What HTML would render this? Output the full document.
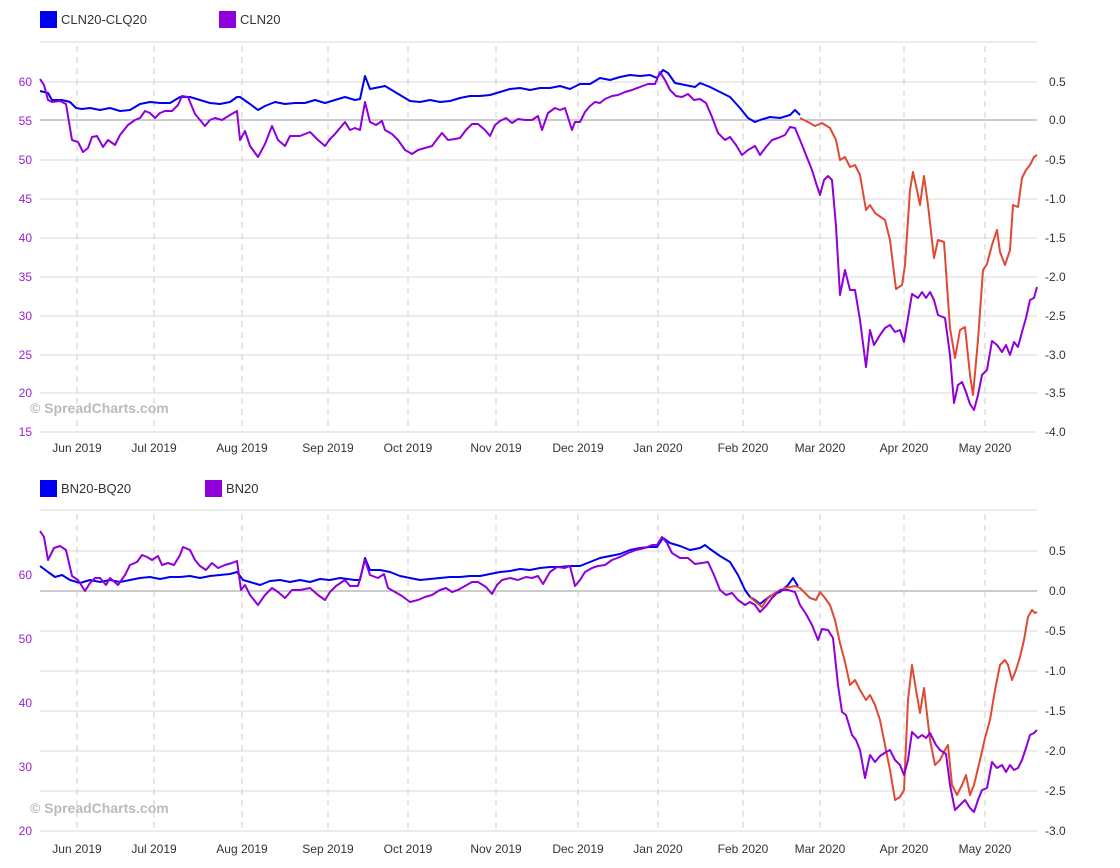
<!DOCTYPE html>
<html><head><meta charset="utf-8"><style>
body{margin:0;background:#fff;}
svg{display:block;font-family:"Liberation Sans",sans-serif;}
.g{stroke:#d9d9d9;stroke-width:1}
.z{stroke:#999;stroke-width:1}
.v{stroke:#ccc;stroke-width:1;stroke-dasharray:6,5}
.l{font-size:12px;fill:#9a1fd8;text-anchor:end}
.r{font-size:12px;fill:#333}
.x{font-size:12px;fill:#333;text-anchor:middle}
.s{fill:none;stroke-width:2;stroke-linejoin:round}
.wm{font-size:14px;font-weight:bold;fill:#bbb}
.lg{font-size:13px;fill:#333}
</style></head><body>
<svg width="1120" height="868" viewBox="0 0 1120 868">
<!-- legend top -->
<rect x="40" y="11" width="17" height="17" fill="#0000f0"/><text x="61" y="24" class="lg">CLN20-CLQ20</text>
<rect x="219" y="11" width="17" height="17" fill="#9000d8"/><text x="240" y="24" class="lg">CLN20</text>
<!-- top grid -->
<g>
<line x1="40" x2="1037" y1="42" y2="42" class="g"/>
<line x1="40" x2="1037" y1="82" y2="82" class="g"/>
<line x1="40" x2="1037" y1="120" y2="120" class="z"/>
<line x1="40" x2="1037" y1="160" y2="160" class="g"/>
<line x1="40" x2="1037" y1="199" y2="199" class="g"/>
<line x1="40" x2="1037" y1="238" y2="238" class="g"/>
<line x1="40" x2="1037" y1="277" y2="277" class="g"/>
<line x1="40" x2="1037" y1="316" y2="316" class="g"/>
<line x1="40" x2="1037" y1="355" y2="355" class="g"/>
<line x1="40" x2="1037" y1="393" y2="393" class="g"/>
<line x1="40" x2="1037" y1="432" y2="432" class="g"/>
</g>
<g>
<line x1="77" x2="77" y1="46" y2="432" class="v"/><line x1="154" x2="154" y1="46" y2="432" class="v"/><line x1="242" x2="242" y1="46" y2="432" class="v"/><line x1="328" x2="328" y1="46" y2="432" class="v"/><line x1="408" x2="408" y1="46" y2="432" class="v"/><line x1="496" x2="496" y1="46" y2="432" class="v"/><line x1="578" x2="578" y1="46" y2="432" class="v"/><line x1="658" x2="658" y1="46" y2="432" class="v"/><line x1="743" x2="743" y1="46" y2="432" class="v"/><line x1="820" x2="820" y1="46" y2="432" class="v"/><line x1="904" x2="904" y1="46" y2="432" class="v"/><line x1="985" x2="985" y1="46" y2="432" class="v"/>
</g>
<g class="l">
<text x="32" y="86">60</text><text x="32" y="125">55</text><text x="32" y="164">50</text><text x="32" y="203">45</text><text x="32" y="242">40</text><text x="32" y="281">35</text><text x="32" y="320">30</text><text x="32" y="359">25</text><text x="32" y="397">20</text><text x="32" y="436">15</text>
</g>
<g class="r">
<text x="1049" y="86">0.5</text><text x="1049" y="124">0.0</text><text x="1045" y="164">-0.5</text><text x="1045" y="203">-1.0</text><text x="1045" y="242">-1.5</text><text x="1045" y="281">-2.0</text><text x="1045" y="320">-2.5</text><text x="1045" y="359">-3.0</text><text x="1045" y="397">-3.5</text><text x="1045" y="436">-4.0</text>
</g>
<g class="x">
<text x="77" y="452">Jun 2019</text><text x="154" y="452">Jul 2019</text><text x="242" y="452">Aug 2019</text><text x="328" y="452">Sep 2019</text><text x="408" y="452">Oct 2019</text><text x="496" y="452">Nov 2019</text><text x="578" y="452">Dec 2019</text><text x="658" y="452">Jan 2020</text><text x="743" y="452">Feb 2020</text><text x="820" y="452">Mar 2020</text><text x="904" y="452">Apr 2020</text><text x="985" y="452">May 2020</text>
</g>
<text x="30" y="413" class="wm">© SpreadCharts.com</text>
<polyline class="s" stroke="#0000f0" points="40,91 48,93 52,100 62,100 70,102 76,108 82,109 90,108 100,110 110,108 120,111 130,110 140,104 150,102 160,103 170,103 180,97 190,97 200,100 210,103 220,104 230,102 237,97 240,97 250,104 258,110 265,106 275,102 285,104 295,103 305,103 315,100 325,103 335,100 345,97 355,100 360,99 365,76 370,89 380,87 385,86 395,92 400,95 410,101 420,102 430,100 440,102 450,101 460,98 470,96 480,96 490,95 500,92 510,89 520,88 530,90 540,88 550,88 560,86 570,89 580,84 590,84 600,78 610,80 620,77 630,75 640,76 650,75 657,78 663,70 668,73 675,83 685,85 695,87 700,83 710,87 720,92 730,97 740,108 748,118 755,122 760,120 770,117 780,118 790,115 795,110 800,115"/>
<polyline class="s" stroke="#e04a35" points="800,118 808,122 815,126 822,123 830,128 836,140 840,160 845,157 850,167 855,165 860,175 866,210 870,205 875,213 885,220 890,240 896,289 902,285 905,265 910,190 913,172 918,195 920,205 924,176 928,205 934,258 938,240 944,242 950,328 955,358 960,330 965,327 970,375 973,395 978,340 983,270 987,264 992,245 997,230 1000,252 1005,265 1010,250 1013,205 1018,207 1022,178 1026,170 1030,165 1034,157 1037,155"/>
<polyline class="s" stroke="#9000d8" points="40,79 44,85 48,100 52,102 60,101 66,104 72,140 78,142 83,152 88,148 92,137 97,136 103,147 108,140 115,145 120,135 128,125 135,120 140,118 145,111 150,113 155,118 160,113 165,111 172,111 178,105 182,96 188,97 195,114 200,120 205,126 210,120 215,118 222,120 230,115 237,111 240,140 245,131 250,146 258,157 265,144 272,126 278,140 285,146 290,136 300,136 310,132 318,140 325,146 330,139 335,134 345,122 350,130 355,128 360,130 365,102 370,122 376,125 382,121 385,130 392,134 398,140 405,150 412,154 418,150 425,148 432,146 438,138 442,133 448,140 455,139 460,138 466,130 472,124 478,124 485,130 490,136 495,125 500,121 506,118 512,123 518,119 525,120 532,120 538,116 542,130 548,113 555,108 560,110 565,108 572,130 575,122 580,122 585,112 590,106 595,102 600,103 605,99 612,96 618,95 625,92 632,90 640,87 648,84 655,84 660,72 665,80 670,90 676,96 682,97 688,94 694,100 700,99 706,103 712,117 718,133 725,140 730,137 736,145 742,155 748,150 755,146 760,155 766,147 772,140 778,138 785,135 790,127 795,128 800,140 806,155 812,170 816,183 820,195 824,180 828,176 832,180 836,226 840,295 845,270 850,290 855,290 860,320 866,367 870,330 874,345 880,335 885,328 890,325 895,332 900,330 904,342 908,318 912,294 918,298 922,292 926,298 930,292 934,300 938,315 945,318 950,355 954,403 958,385 962,382 966,392 970,404 974,410 978,395 982,375 987,370 992,341 997,345 1002,352 1006,345 1010,355 1014,342 1018,347 1022,332 1026,318 1030,300 1034,298 1037,287"/>

<!-- legend bottom -->
<rect x="40" y="480" width="17" height="17" fill="#0000f0"/><text x="61" y="493" class="lg">BN20-BQ20</text>
<rect x="205" y="480" width="17" height="17" fill="#9000d8"/><text x="226" y="493" class="lg">BN20</text>
<g>
<line x1="40" x2="1037" y1="510" y2="510" class="g"/>
<line x1="40" x2="1037" y1="551" y2="551" class="g"/>
<line x1="40" x2="1037" y1="591" y2="591" class="z"/>
<line x1="40" x2="1037" y1="631" y2="631" class="g"/>
<line x1="40" x2="1037" y1="671" y2="671" class="g"/>
<line x1="40" x2="1037" y1="711" y2="711" class="g"/>
<line x1="40" x2="1037" y1="751" y2="751" class="g"/>
<line x1="40" x2="1037" y1="791" y2="791" class="g"/>
<line x1="40" x2="1037" y1="831" y2="831" class="g"/>
</g>
<g>
<line x1="77" x2="77" y1="514" y2="831" class="v"/><line x1="154" x2="154" y1="514" y2="831" class="v"/><line x1="242" x2="242" y1="514" y2="831" class="v"/><line x1="328" x2="328" y1="514" y2="831" class="v"/><line x1="408" x2="408" y1="514" y2="831" class="v"/><line x1="496" x2="496" y1="514" y2="831" class="v"/><line x1="578" x2="578" y1="514" y2="831" class="v"/><line x1="658" x2="658" y1="514" y2="831" class="v"/><line x1="743" x2="743" y1="514" y2="831" class="v"/><line x1="820" x2="820" y1="514" y2="831" class="v"/><line x1="904" x2="904" y1="514" y2="831" class="v"/><line x1="985" x2="985" y1="514" y2="831" class="v"/>
</g>
<g class="l">
<text x="32" y="579">60</text><text x="32" y="643">50</text><text x="32" y="707">40</text><text x="32" y="771">30</text><text x="32" y="835">20</text>
</g>
<g class="r">
<text x="1049" y="555">0.5</text><text x="1049" y="595">0.0</text><text x="1045" y="635">-0.5</text><text x="1045" y="675">-1.0</text><text x="1045" y="715">-1.5</text><text x="1045" y="755">-2.0</text><text x="1045" y="795">-2.5</text><text x="1045" y="835">-3.0</text>
</g>
<g class="x">
<text x="77" y="853">Jun 2019</text><text x="154" y="853">Jul 2019</text><text x="242" y="853">Aug 2019</text><text x="328" y="853">Sep 2019</text><text x="408" y="853">Oct 2019</text><text x="496" y="853">Nov 2019</text><text x="578" y="853">Dec 2019</text><text x="658" y="853">Jan 2020</text><text x="743" y="853">Feb 2020</text><text x="820" y="853">Mar 2020</text><text x="904" y="853">Apr 2020</text><text x="985" y="853">May 2020</text>
</g>
<text x="30" y="813" class="wm">© SpreadCharts.com</text>
<polyline class="s" stroke="#0000f0" points="40,566 48,572 55,577 62,575 70,580 80,583 90,580 100,582 110,580 120,582 130,580 140,578 150,577 160,579 170,577 180,577 190,576 200,578 210,576 220,575 230,574 237,572 243,580 250,582 260,585 270,581 280,580 290,582 300,580 310,582 320,579 330,580 340,578 355,580 360,580 365,558 370,570 380,570 390,572 400,576 410,578 420,580 430,579 440,578 450,577 460,577 470,576 480,576 490,574 500,572 510,571 520,569 530,570 540,568 550,567 560,567 570,566 580,566 590,562 600,558 610,556 620,554 630,550 640,548 650,547 657,547 663,538 670,543 680,546 690,550 700,548 705,545 710,549 720,556 730,562 738,575 745,590 750,597 755,600 760,604 765,600 770,596 780,592 788,585 793,578 798,586"/>
<polyline class="s" stroke="#e04a35" points="750,597 757,603 762,607 768,598 775,593 785,588 795,586 800,588 810,598 816,600 820,592 825,598 830,605 835,620 840,643 845,662 850,685 855,680 860,690 866,700 870,695 875,705 880,720 885,745 890,770 895,800 900,797 904,790 908,700 912,665 916,690 920,713 924,688 930,740 935,765 940,760 945,750 948,745 952,785 957,795 962,785 966,775 970,795 974,785 980,760 985,738 990,720 995,690 1000,665 1005,660 1008,665 1012,680 1016,670 1020,657 1024,640 1028,617 1032,610 1035,613 1037,612"/>
<polyline class="s" stroke="#9000d8" points="40,531 44,537 48,560 54,548 60,546 66,550 72,576 78,580 85,591 90,583 95,578 100,578 106,585 110,578 118,585 125,575 130,565 137,562 142,555 147,557 152,560 158,556 162,565 168,563 174,565 180,555 183,547 190,550 195,560 200,566 206,570 212,563 218,568 225,565 232,563 237,561 241,590 245,585 250,595 258,605 265,595 272,588 278,592 285,598 292,590 300,590 310,588 318,595 325,600 330,592 336,586 345,580 350,586 358,586 365,560 370,575 378,578 384,574 388,588 395,592 402,596 410,602 418,600 425,597 432,595 440,590 446,588 452,592 458,590 465,586 472,582 478,582 486,587 492,594 497,585 502,580 510,578 518,580 526,577 532,578 538,576 543,584 550,572 557,567 565,568 570,566 575,586 580,580 585,572 592,568 598,566 605,565 612,560 620,557 628,553 636,550 645,548 652,545 657,545 662,537 667,543 672,553 680,558 688,558 695,564 702,563 708,562 714,575 720,590 726,595 732,593 738,600 745,605 750,602 755,605 760,612 766,606 772,598 780,590 788,590 795,592 800,605 806,614 812,625 818,640 822,629 828,630 833,638 838,685 842,712 846,715 852,735 856,740 860,750 865,778 870,755 875,762 880,756 886,752 890,750 895,760 900,765 904,775 908,760 912,732 918,738 922,735 926,738 930,733 936,745 940,750 946,754 950,785 955,810 960,805 965,800 970,808 974,812 978,800 982,790 987,788 992,762 997,768 1002,765 1006,772 1010,765 1014,770 1018,768 1022,760 1026,748 1030,735 1034,733 1037,730"/>
</svg>
</body></html>
